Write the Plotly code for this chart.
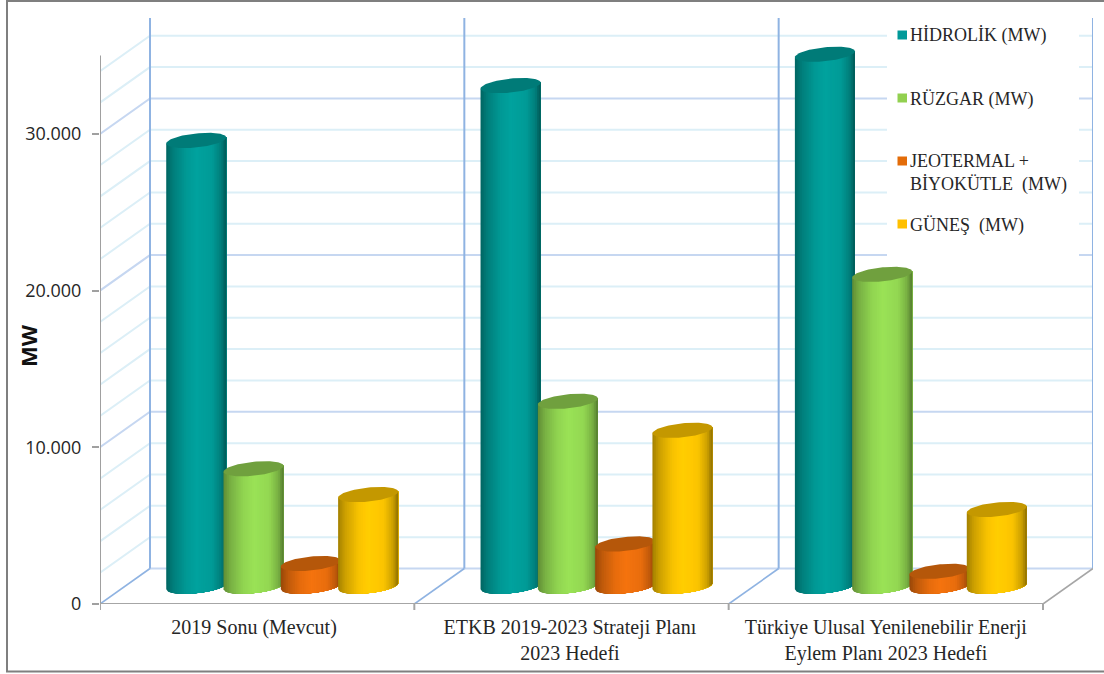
import numpy as np
import plotly.graph_objects as go

# Chart data
categories = [
    "2019 Sonu (Mevcut)",
    "ETKB 2019-2023 Strateji Planı<br>2023 Hedefi",
    "Türkiye Ulusal Yenilenebilir Enerji<br>Eylem Planı 2023 Hedefi",
]
hidrolik = [28450, 31950, 33950]
ruzgar = [7500, 11800, 19900]
jeotermal_biyokutle = [1450, 2700, 950]
gunes = [5850, 9950, 4900]
y_tick_values = [0, 10000, 20000, 30000]
y_tick_labels = ["0", "10.000", "20.000", "30.000"]
series_names = [
    "HİDROLİK (MW)",
    "RÜZGAR (MW)",
    "JEOTERMAL +<br>BİYOKÜTLE\u00a0 (MW)",
    "GÜNEŞ\u00a0 (MW)",
]

# Page layout, in pixels
W, H = 1104, 674
M_L, M_R, M_T, M_B = 100, 11, 18, 70
PX_PER_CAT = 314.33
PX_PER_UNIT = 0.01567
PLOT_W = W - M_L - M_R
PLOT_H = H - M_T - M_B

# Oblique projection of the 3D box, in data units
DEPTH_X = 50 / PX_PER_CAT
DEPTH_Y = 35.5 / PX_PER_UNIT
X_MAX = PLOT_W / PX_PER_CAT
Y_MAX = PLOT_H / PX_PER_UNIT
AXIS_TOP = 35000

# Cylinder geometry
CYL_A = 30 / PX_PER_CAT
CYL_PITCH = 57.3 / PX_PER_CAT
CYL_TILT = 3 / PX_PER_UNIT
CYL_MINOR = 7 / PX_PER_UNIT
CYL_BASE = DEPTH_Y / 2
N_BANDS = 34

# Shading across each cylinder, applied to its base colour
base_colors = [(0, 158, 154), (150, 220, 84), (238, 112, 14), (255, 200, 0)]
cap_colors = ["#007B78", "#70A03E", "#B5570A", "#C49800"]
key_colors = ["#009999", "#92D050", "#E36C09", "#FFC000"]
shade_pos = [0.0, 0.10, 0.32, 0.5, 0.75, 0.9, 1.0]
shade_val = [0.66, 0.80, 0.97, 1.03, 0.98, 0.80, 0.52]


def px(xv):
    return (xv - M_L) / PLOT_W


def py(yv):
    return (H - M_B - yv) / PLOT_H


def shade(rgb, t):
    k = np.interp(t, shade_pos, shade_val)
    r, g, b = [int(min(255, c * k)) for c in rgb]
    return f"rgb({r},{g},{b})"


fig = go.Figure()


def add_lines(xs, ys, color, width, clip=True):
    fig.add_trace(go.Scatter(x=xs, y=ys, mode="lines", line=dict(color=color, width=width),
                             hoverinfo="skip", showlegend=False, cliponaxis=clip))


def add_fill(xs, ys, color, name=None):
    fig.add_trace(go.Scatter(x=xs, y=ys, mode="lines", line=dict(color=color, width=0),
                             fill="toself", fillcolor=color, hoverinfo="skip",
                             showlegend=False, name=name))


# Back wall and side wall gridlines
for step_vals, color, width in [
    ([v for v in range(0, 34001, 2000) if v % 10000], "#DCEFF7", 2),
    ([v for v in range(10000, 34001, 10000)], "#C6D7F1", 2),
]:
    gx, gy = [], []
    for v in step_vals:
        gx += [0, DEPTH_X, X_MAX, None]
        gy += [v, v + DEPTH_Y, v + DEPTH_Y, None]
    add_lines(gx, gy, color, width)

# Back floor edge
add_lines([DEPTH_X, X_MAX], [DEPTH_Y, DEPTH_Y], "#C6D7F1", 2)

# Category dividers on the wall and on the floor
vx, vy = [], []
for i in range(4):
    vx += [i + DEPTH_X, i + DEPTH_X, None]
    vy += [DEPTH_Y, Y_MAX, None]
add_lines(vx, vy, "#8FB3E2", 2)
fx, fy = [], []
for i in range(3):
    fx += [i, i + DEPTH_X, None]
    fy += [0, DEPTH_Y, None]
add_lines(fx, fy, "#8FB3E2", 1.6)
add_lines([3, 3 + DEPTH_X], [0, DEPTH_Y], "#A6A6A6", 1.6)

# Front axis lines
add_lines([0, 0], [0, AXIS_TOP], "#A0A0A0", 2, clip=False)
add_lines([0, 3], [0, 0], "#A6A6A6", 2, clip=False)

# Cylinders, left to right, so that each one overlaps its left neighbour
all_series = [hidrolik, ruzgar, jeotermal_biyokutle, gunes]
for c in range(len(categories)):
    for s, values in enumerate(all_series):
        v = values[c]
        cx = c + 0.5 + DEPTH_X / 2 + (s - 1.5) * CYL_PITCH
        edges = np.linspace(-1, 1, N_BANDS + 1)[:-1]
        for u0 in edges:
            us = np.linspace(u0, 1, 40)
            low = CYL_BASE + CYL_TILT * us - CYL_MINOR * np.sqrt(1 - us ** 2)
            top = CYL_BASE + v + CYL_TILT * us
            xs = cx + CYL_A * us
            add_fill(list(xs) + list(xs[::-1]) + [xs[0]],
                     list(low) + list(top[::-1]) + [low[0]],
                     shade(base_colors[s], (u0 + 1) / 2))
        tt = np.linspace(0, 2 * np.pi, 90)
        add_fill(cx + CYL_A * np.cos(tt),
                 CYL_BASE + v + CYL_TILT * np.cos(tt) + CYL_MINOR * np.sin(tt),
                 cap_colors[s], name=series_names[s])

# Picture frame, key panel and category tick marks
shapes = [
    dict(type="rect", xref="paper", yref="paper", x0=px(887), x1=px(1079), y0=py(262), y1=py(18),
         fillcolor="white", line=dict(width=0), layer="above"),
    dict(type="rect", xref="paper", yref="paper", x0=px(7), x1=px(1110), y0=py(671.5), y1=py(1),
         fillcolor="rgba(0,0,0,0)", line=dict(color="#7F7F7F", width=2), layer="above"),
]
for i in range(4):
    shapes.append(dict(type="line", xref="x", yref="paper", x0=i, x1=i, y0=py(604), y1=py(610),
                       line=dict(color="#A6A6A6", width=2)))

# Key: swatches and labels
key_y = [35, 98, 161, 224]
annotations = []
for name, color, ky in zip(series_names, key_colors, key_y):
    shapes.append(dict(type="rect", xref="paper", yref="paper", x0=px(897.5), x1=px(907), y0=py(ky + 4.5),
                       y1=py(ky - 4.5), fillcolor=color, line=dict(width=0), layer="above"))
    annotations.append(dict(xref="paper", yref="paper", x=px(908), y=py(ky - 11.5), text=name, showarrow=False,
                            xanchor="left", yanchor="top", align="left",
                            font=dict(family="Liberation Serif", size=18, color="#262626")))

annotations.append(dict(xref="paper", yref="paper", x=px(28), y=py(346), text="<b>MW</b>", showarrow=False,
                        textangle=-90, xanchor="center", yanchor="middle",
                        font=dict(family="Open Sans", size=22, color="#111111")))

fig.update_layout(
    width=W, height=H, autosize=False,
    margin=dict(l=M_L, r=M_R, t=M_T, b=M_B, autoexpand=False),
    paper_bgcolor="white", plot_bgcolor="white",
    showlegend=False, shapes=shapes, annotations=annotations,
    xaxis=dict(range=[0, X_MAX], showgrid=False, zeroline=False, showline=False, ticks="",
               automargin=False,
               tickmode="array", tickvals=[0.49, 1.495, 2.5], ticktext=categories, tickangle=0,
               ticklabelstandoff=9,
               tickfont=dict(family="Liberation Serif", size=20, color="#262626")),
    yaxis=dict(range=[0, Y_MAX], showgrid=False, zeroline=False, showline=False,
               automargin=False,
               ticks="outside", ticklen=7, tickwidth=2, tickcolor="#A0A0A0",
               tickmode="array", tickvals=y_tick_values, ticktext=y_tick_labels,
               ticklabelstandoff=7,
               tickfont=dict(family="Open Sans", size=18, color="#262626")),
)

fig.write_html("out.html")
